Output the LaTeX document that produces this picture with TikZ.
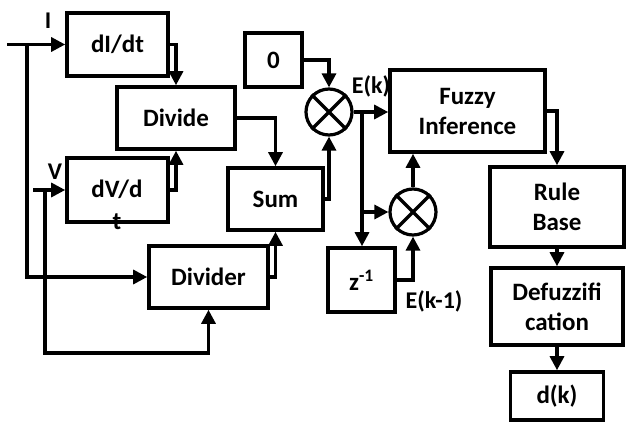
\documentclass[tikz,border=0pt]{standalone}
\usepackage{fontspec}
\setmainfont{Carlito}
\usetikzlibrary{arrows.meta,calc}
\begin{document}
\begin{tikzpicture}[x=1pt,y=-1pt,
  box/.style={draw,line width=3.6pt,rectangle,inner sep=0pt,align=center,
    font=\fontsize{25}{30}\selectfont\bfseries},
  sumc/.style={draw,line width=3.2pt,circle,minimum size=46pt,inner sep=0pt},
  lbl/.style={font=\fontsize{24}{28}\selectfont\bfseries,inner sep=0pt},
  arr/.style={line width=3.2pt,-{Triangle[length=14pt,width=14pt]}},
  ln/.style={line width=3.2pt}]
\useasboundingbox (0,0) rectangle (627,423);
% boxes
\node[box,minimum width=101pt,minimum height=63pt] (dIdt) at (117.5,44.5) {dI/dt};
\node[box,minimum width=118pt,minimum height=62pt] (divide) at (176,118) {Divide};
\node[box,minimum width=101pt,minimum height=64pt] (dVdt) at (117.5,190) {};
\node[lbl,anchor=base,font=\fontsize{25}{30}\selectfont\bfseries] (dVtxt) at (117,197) {dV/d};
\node[lbl,anchor=base,font=\fontsize{25}{30}\selectfont\bfseries] (ttxt) at (117,229) {t};
\node[box,minimum width=119pt,minimum height=62pt] (divider) at (208.5,277) {Divider};
\node[box,minimum width=95pt,minimum height=62pt] (sum) at (275.5,199) {Sum};
\node[box,minimum width=57pt,minimum height=54pt] (zero) at (273.5,60) {0};
\node[box,minimum width=155pt,minimum height=82pt] (fuzzy) at (467.5,111) {Fuzzy\\Inference};
\node[box,minimum width=67pt,minimum height=64pt] (zinv) at (361.5,280) {z\textsuperscript{-1}};
\node[box,minimum width=134pt,minimum height=80pt] (rule) at (557,207) {Rule\\Base};
\node[box,minimum width=132pt,minimum height=77pt] (defuzz) at (557,306.5) {Defuzzifi\\cation};
\node[box,minimum width=93pt,minimum height=48pt] (dk) at (557,396) {d(k)};
% summing junctions
\node[sumc] (c1) at (329,112) {};
\node[sumc] (c2) at (413,212) {};
\foreach \c in {c1,c2}{
  \draw[line width=3.2pt] (\c.45) -- (\c.225) (\c.135) -- (\c.-45);
}
% labels
\node[lbl] (Ilbl) at (48,21) {I};
\node[lbl] (Vlbl) at (55,172) {V};
\node[lbl] (Eklbl) at (371,86) {E(k)};
\node[lbl] (Ek1lbl) at (434,301) {E(k-1)};
% coordinates
\coordinate (Iin) at (7,44.5);
\coordinate (Ij) at (27,44.5);
\coordinate (Vin) at (33,190);
\coordinate (Vj) at (45,190);
\coordinate (vb) at (45,353);
\coordinate (b1) at (362,112);
% connectors
\draw[arr] (Iin) -- (dIdt.west);
\draw[arr] (Ij) |- (divider.west);
\draw[arr] (Vin) -- (dVdt.west);
\draw[arr] (Vj) -- (vb) -| (divider.south);
\draw[arr] (dIdt.east) -| (divide.north);
\draw[arr] (dVdt.east) -| (divide.south);
\draw[arr] (divide.east) -| (sum.north);
\draw[arr] (divider.east) -| (sum.south);
\draw[arr] (sum.east) -| (c1.south);
\draw[arr] (zero.east) -| (c1.north);
\draw[arr] (c1.east) -- (c1.east -| fuzzy.west);
\draw[arr] (b1) -- (zinv.north -| b1);
\draw[arr] (b1 |- c2) -- (c2.west);
\draw[arr] (zinv.east) -| (c2.south);
\draw[arr] (c2.north) -- (c2.north |- fuzzy.south);
\draw[arr] (fuzzy.east) -| (rule.north);
\draw[arr] (rule.south) -- (rule.south |- defuzz.north);
\draw[arr] (defuzz.south) -- (defuzz.south |- dk.north);
\end{tikzpicture}
\end{document}
